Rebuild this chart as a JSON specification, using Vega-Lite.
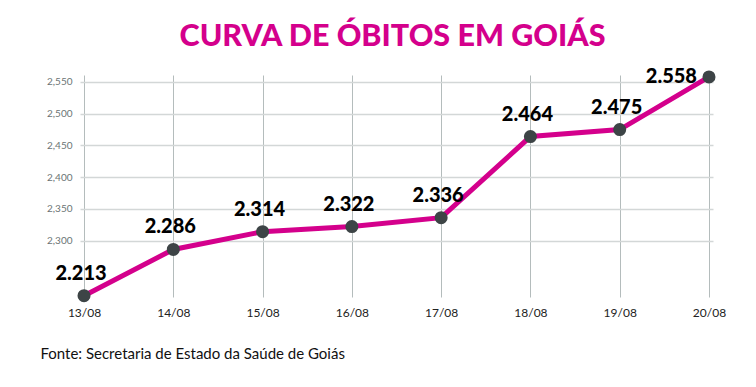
{
  "$schema": "https://vega.github.io/schema/vega-lite/v6.json",
  "autosize": "none",
  "width": 633,
  "height": 222,
  "padding": {"left": 80, "top": 75, "right": 43, "bottom": 90},
  "background": "white",
  "config": {"view": {"stroke": null}},
  "title": {
    "text": "CURVA DE ÓBITOS EM GOIÁS",
    "font": "Lato",
    "fontWeight": 900,
    "fontSize": 30.5,
    "color": "#D4008C",
    "anchor": "middle",
    "dx": -4,
    "offset": 14
  },
  "data": {
    "values": [
      {"data": "13/08", "obitos": 2213, "rotulo": "2.213"},
      {"data": "14/08", "obitos": 2286, "rotulo": "2.286"},
      {"data": "15/08", "obitos": 2314, "rotulo": "2.314"},
      {"data": "16/08", "obitos": 2322, "rotulo": "2.322"},
      {"data": "17/08", "obitos": 2336, "rotulo": "2.336"},
      {"data": "18/08", "obitos": 2464, "rotulo": "2.464"},
      {"data": "19/08", "obitos": 2475, "rotulo": "2.475"},
      {"data": "20/08", "obitos": 2558, "rotulo": "2.558"}
    ]
  },
  "encoding": {
    "x": {
      "field": "data",
      "type": "ordinal",
      "scale": {"type": "point", "padding": 0.045},
      "axis": {
        "title": "Fonte: Secretaria de Estado da Saúde de Goiás",
        "titleFont": "Lato",
        "titleFontSize": 15,
        "titleFontWeight": "normal",
        "titleColor": "#111111",
        "titleAnchor": "start",
        "titleAlign": "left",
        "titleBaseline": "middle",
        "titleX": -40,
        "titleY": 56,
        "labelAngle": 0,
        "labelFont": "Lato",
        "labelFontSize": 12,
        "labelColor": "#222222",
        "labelPadding": 10,
        "domain": false,
        "ticks": false,
        "grid": true,
        "gridColor": "#b4bcbc",
        "gridWidth": 1
      }
    },
    "y": {
      "field": "obitos",
      "type": "quantitative",
      "scale": {"domain": [2211, 2561], "nice": false, "zero": false},
      "axis": {
        "title": null,
        "values": [2300, 2350, 2400, 2450, 2500, 2550],
        "format": ",.0f",
        "labelFont": "Lato",
        "labelFontSize": 10,
        "labelColor": "#6b7475",
        "labelPadding": 8,
        "domain": false,
        "ticks": false,
        "grid": true,
        "gridColor": "#d3d7d7",
        "gridWidth": 1.5
      }
    }
  },
  "layer": [
    {
      "mark": {"type": "line", "color": "#D4008C", "strokeWidth": 5}
    },
    {
      "mark": {"type": "circle", "color": "#3d4446", "opacity": 1, "size": 170}
    },
    {
      "transform": [{"filter": "datum.data != '20/08'"}],
      "mark": {"type": "text", "font": "Lato", "fontWeight": 900, "fontSize": 20, "color": "#000000", "dy": -22, "dx": -3},
      "encoding": {"text": {"field": "rotulo"}}
    },
    {
      "transform": [{"filter": "datum.data == '20/08'"}],
      "mark": {"type": "text", "font": "Lato", "fontWeight": 900, "fontSize": 20, "color": "#000000", "align": "right", "dx": -12, "dy": 0},
      "encoding": {"text": {"field": "rotulo"}}
    }
  ]
}
